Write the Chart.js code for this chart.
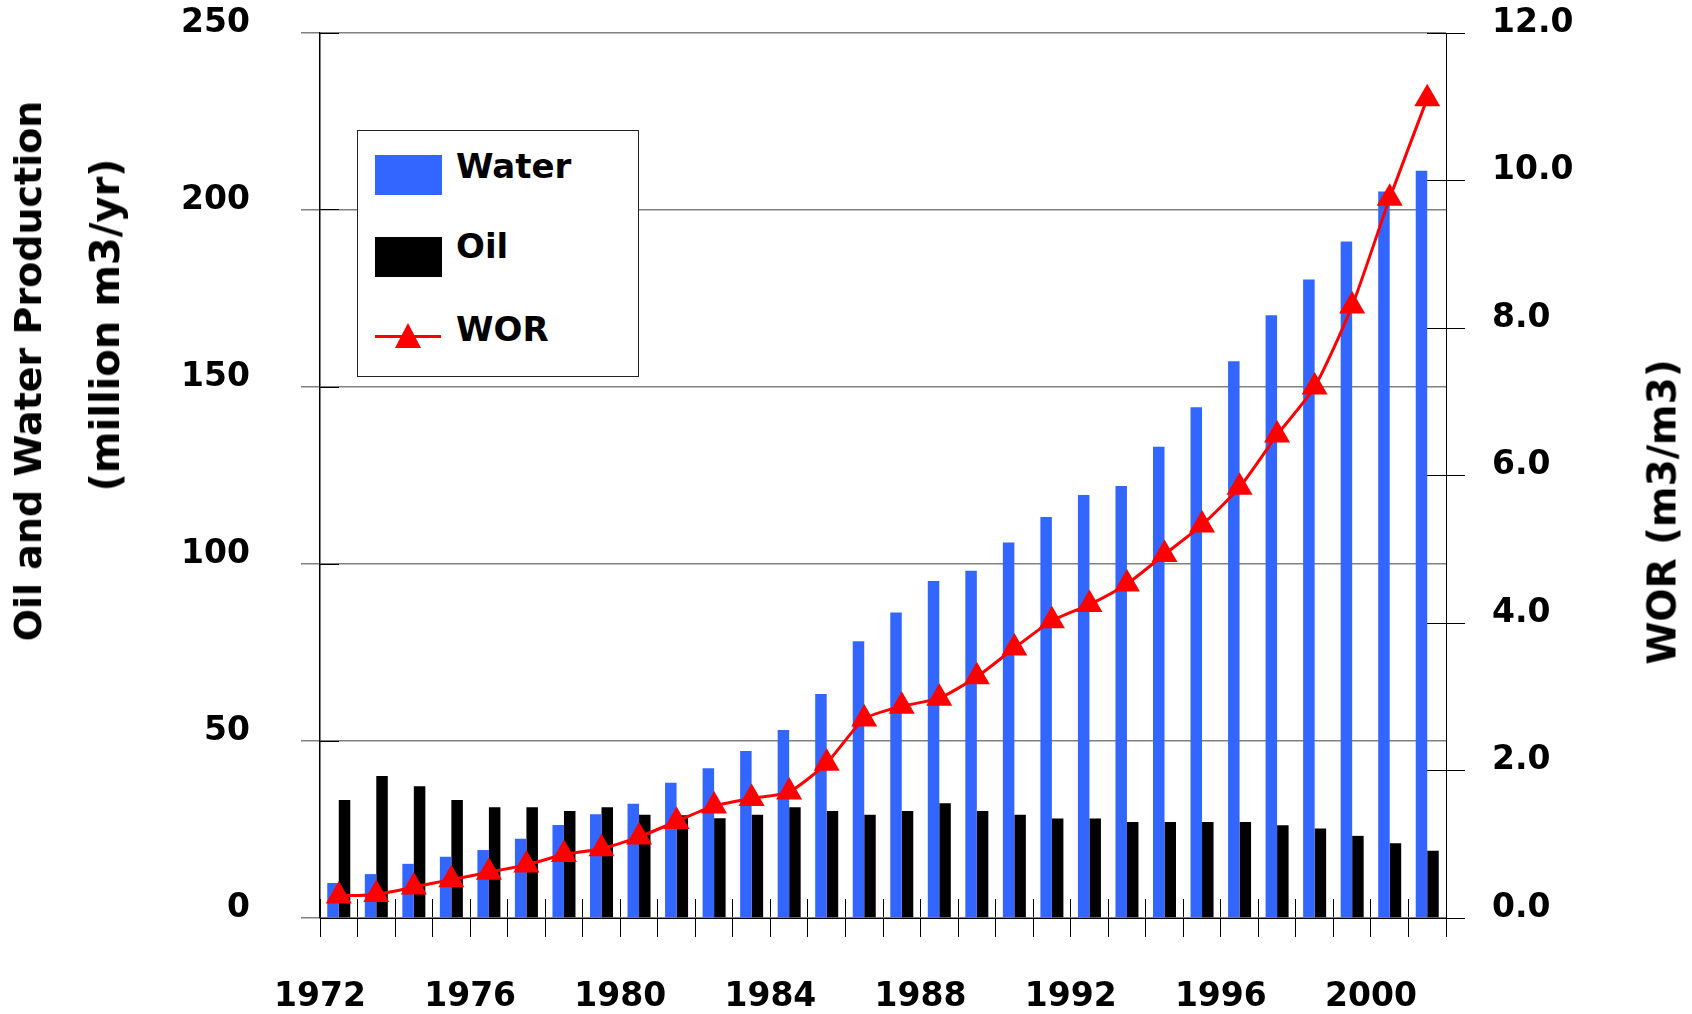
<!DOCTYPE html>
<html lang="en">
<head>
    <meta charset="UTF-8">
    <title>Oil and Water Production</title>
    <script src="https://cdn.jsdelivr.net/npm/chart.js"></script>
    <style>
        body {
            margin: 0;
            background: #fff;
            overflow: hidden;
        }

        .wrap {
            position: relative;
            width: 1692px;
            height: 1014px;
            font-family: 'DejaVu Sans', sans-serif;
            font-weight: bold;
            color: #000;
        }

        /* rotated axis titles, positioned by their centre */
        .axis-title {
            position: absolute;
            white-space: nowrap;
            line-height: 1;
            transform: translate(-50%, -50%) rotate(-90deg);
        }

        .legend {
            position: absolute;
            left: 357px;
            top: 130px;
            width: 282px;
            height: 247px;
            box-sizing: border-box;
            border: 1px solid #222;
            background: #fff;
        }

        .legend .swatch {
            position: absolute;
            left: 17px;
            width: 67px;
            height: 40px;
        }

        .legend .label {
            position: absolute;
            left: 98px;
            font-size: 34px;
            line-height: 34px;
        }

        .legend .wor-line {
            position: absolute;
            left: 17px;
            top: 204px;
            width: 66px;
            height: 3px;
            background: #ff0000;
        }

        .legend .wor-mark {
            position: absolute;
            left: 37px;
            top: 192px;
            width: 0;
            height: 0;
            border-left: 13px solid transparent;
            border-right: 13px solid transparent;
            border-bottom: 25px solid #ff0000;
        }
    </style>
</head>
<body>
    <div class="wrap">
        <canvas id="prodChart" width="1692" height="1014"></canvas>

        <div class="axis-title" style="left: 28px; top: 371px; font-size: 38px;">Oil and Water Production</div>
        <div class="axis-title" style="left: 105px; top: 325px; font-size: 40px;">(million m3/yr)</div>
        <div class="axis-title" style="left: 1662px; top: 512px; font-size: 39px;">WOR (m3/m3)</div>

        <div class="legend">
            <div class="swatch" style="top: 24px; background: #3366ff;"></div>
            <div class="label" style="top: 18px;">Water</div>
            <div class="swatch" style="top: 106px; background: #000;"></div>
            <div class="label" style="top: 98px;">Oil</div>
            <div class="wor-line"></div>
            <div class="wor-mark"></div>
            <div class="label" style="top: 181px;">WOR</div>
        </div>
    </div>

    <script>
        // Production years (one bar group per year)
        const years = ['1972', '1973', '1974', '1975', '1976', '1977', '1978', '1979', '1980', '1981',
                       '1982', '1983', '1984', '1985', '1986', '1987', '1988', '1989', '1990', '1991',
                       '1992', '1993', '1994', '1995', '1996', '1997', '1998', '1999', '2000', '2001'];

        // Water production, million m3/yr
        const water = [9.9, 12.4, 15.3, 17.3, 19.2, 22.4, 26.3, 29.3, 32.3, 38.2,
                       42.3, 47.2, 53.1, 63.3, 78.2, 86.3, 95.2, 98.1, 106.1, 113.3,
                       119.5, 122.0, 133.1, 144.3, 157.3, 170.3, 180.4, 191.1, 205.2, 211.1];

        // Oil production, million m3/yr
        const oil = [33.3, 40.1, 37.2, 33.3, 31.3, 31.3, 30.2, 31.3, 29.2, 29.0,
                     28.2, 29.2, 31.3, 30.2, 29.2, 30.2, 32.4, 30.2, 29.2, 28.1,
                     28.1, 27.1, 27.1, 27.1, 27.1, 26.2, 25.3, 23.2, 21.1, 19.0];

        // Water/oil ratio, m3/m3
        const wor = [0.30, 0.32, 0.42, 0.52, 0.62, 0.72, 0.86, 0.94, 1.10, 1.31,
                     1.52, 1.62, 1.71, 2.10, 2.70, 2.87, 2.98, 3.27, 3.66, 4.03,
                     4.25, 4.53, 4.93, 5.33, 5.84, 6.55, 7.20, 8.30, 9.76, 11.11];

        // Axis ticks
        const yearTicks = years.map(Number).concat([2002]);
        const yearLabels = [1972, 1976, 1980, 1984, 1988, 1992, 1996, 2000];
        const prodTicks = [0, 50, 100, 150, 200, 250];
        const worTicks = [0, 2, 4, 6, 8, 10, 12];

        const tickFont = { family: 'DejaVu Sans', size: 33, weight: 'bold' };

        function setTicks(values) {
            return scale => { scale.ticks = values.map(v => ({ value: v })); };
        }

        // fixed axis size, and no extra label padding pushed onto the plot area
        function fixSize(size) {
            return s => {
                if (s.isHorizontal()) s.height = size; else s.width = size;
                s.paddingTop = 0;
                s.paddingBottom = 0;
                s.paddingLeft = 0;
                s.paddingRight = 0;
            };
        }

        // short tick marks drawn inside the plot (negative tick length)
        function innerTicks(position, values) {
            return {
                type: 'linear',
                position: position,
                min: values[0],
                max: values[values.length - 1],
                offset: false,
                weight: -1,
                afterBuildTicks: setTicks(values),
                afterFit: fixSize(0),
                ticks: { display: false, autoSkip: false },
                grid: { offset: false, drawOnChartArea: false, tickLength: -19, tickColor: '#000', lineWidth: 1 },
                border: { display: false }
            };
        }

        const ctx = document.getElementById('prodChart').getContext('2d');

        const chart = new Chart(ctx, {
            type: 'bar',
            data: {
                labels: years,
                datasets: [{
                    type: 'line',
                    label: 'WOR',
                    data: wor,
                    xAxisID: 'x',
                    yAxisID: 'y2',
                    order: 0,
                    borderColor: '#ff0000',
                    backgroundColor: '#ff0000',
                    borderWidth: 3,
                    tension: 0.2,
                    pointStyle: 'triangle',
                    pointRadius: 15,
                    pointBorderWidth: 0,
                    pointBackgroundColor: '#ff0000'
                }, {
                    label: 'Water',
                    data: water,
                    xAxisID: 'x',
                    yAxisID: 'y',
                    order: 1,
                    backgroundColor: '#3366ff',
                    categoryPercentage: 0.613,
                    barPercentage: 1.0
                }, {
                    label: 'Oil',
                    data: oil,
                    xAxisID: 'x',
                    yAxisID: 'y',
                    order: 1,
                    backgroundColor: '#000000',
                    categoryPercentage: 0.613,
                    barPercentage: 1.0
                }]
            },
            options: {
                responsive: false,
                animation: false,
                layout: { padding: { top: 33, left: 0, right: 0, bottom: 0 } },
                plugins: {
                    legend: { display: false },
                    tooltip: { enabled: false }
                },
                scales: {
                    // category axis that places the bars, kept hidden
                    x: {
                        type: 'category',
                        display: false,
                        offset: true
                    },
                    // visible year axis with ticks on year boundaries
                    xYears: {
                        type: 'linear',
                        position: 'bottom',
                        min: yearTicks[0],
                        max: yearTicks[yearTicks.length - 1],
                        offset: false,
                        afterBuildTicks: setTicks(yearTicks),
                        afterFit: fixSize(96),
                        ticks: {
                            autoSkip: false,
                            maxRotation: 0,
                            padding: 41,
                            color: '#000',
                            font: tickFont,
                            callback: v => yearLabels.includes(v) ? String(v) : ''
                        },
                        grid: { offset: false, drawOnChartArea: false, tickLength: 19, tickColor: '#000' },
                        border: { color: '#000', width: 1 }
                    },
                    xInner: innerTicks('bottom', yearTicks),
                    y: {
                        type: 'linear',
                        position: 'left',
                        min: 0,
                        max: 250,
                        afterBuildTicks: setTicks(prodTicks),
                        afterFit: fixSize(320),
                        ticks: {
                            padding: 51,
                            labelOffset: -10,
                            color: '#000',
                            font: tickFont
                        },
                        grid: { color: '#808080', lineWidth: 1.5, tickLength: 19, tickColor: '#808080' },
                        border: { color: '#000', width: 1.5 }
                    },
                    yInner: innerTicks('left', prodTicks),
                    y2: {
                        type: 'linear',
                        position: 'right',
                        min: 0,
                        max: 12,
                        afterBuildTicks: setTicks(worTicks),
                        afterFit: fixSize(246),
                        ticks: {
                            padding: 27,
                            labelOffset: -10,
                            color: '#000',
                            font: tickFont,
                            callback: v => v.toFixed(1)
                        },
                        grid: { drawOnChartArea: false, tickLength: 19, tickColor: '#000' },
                        border: { color: '#000', width: 1 }
                    },
                    y2Inner: innerTicks('right', worTicks)
                }
            }
        });
    </script>
</body>
</html>
